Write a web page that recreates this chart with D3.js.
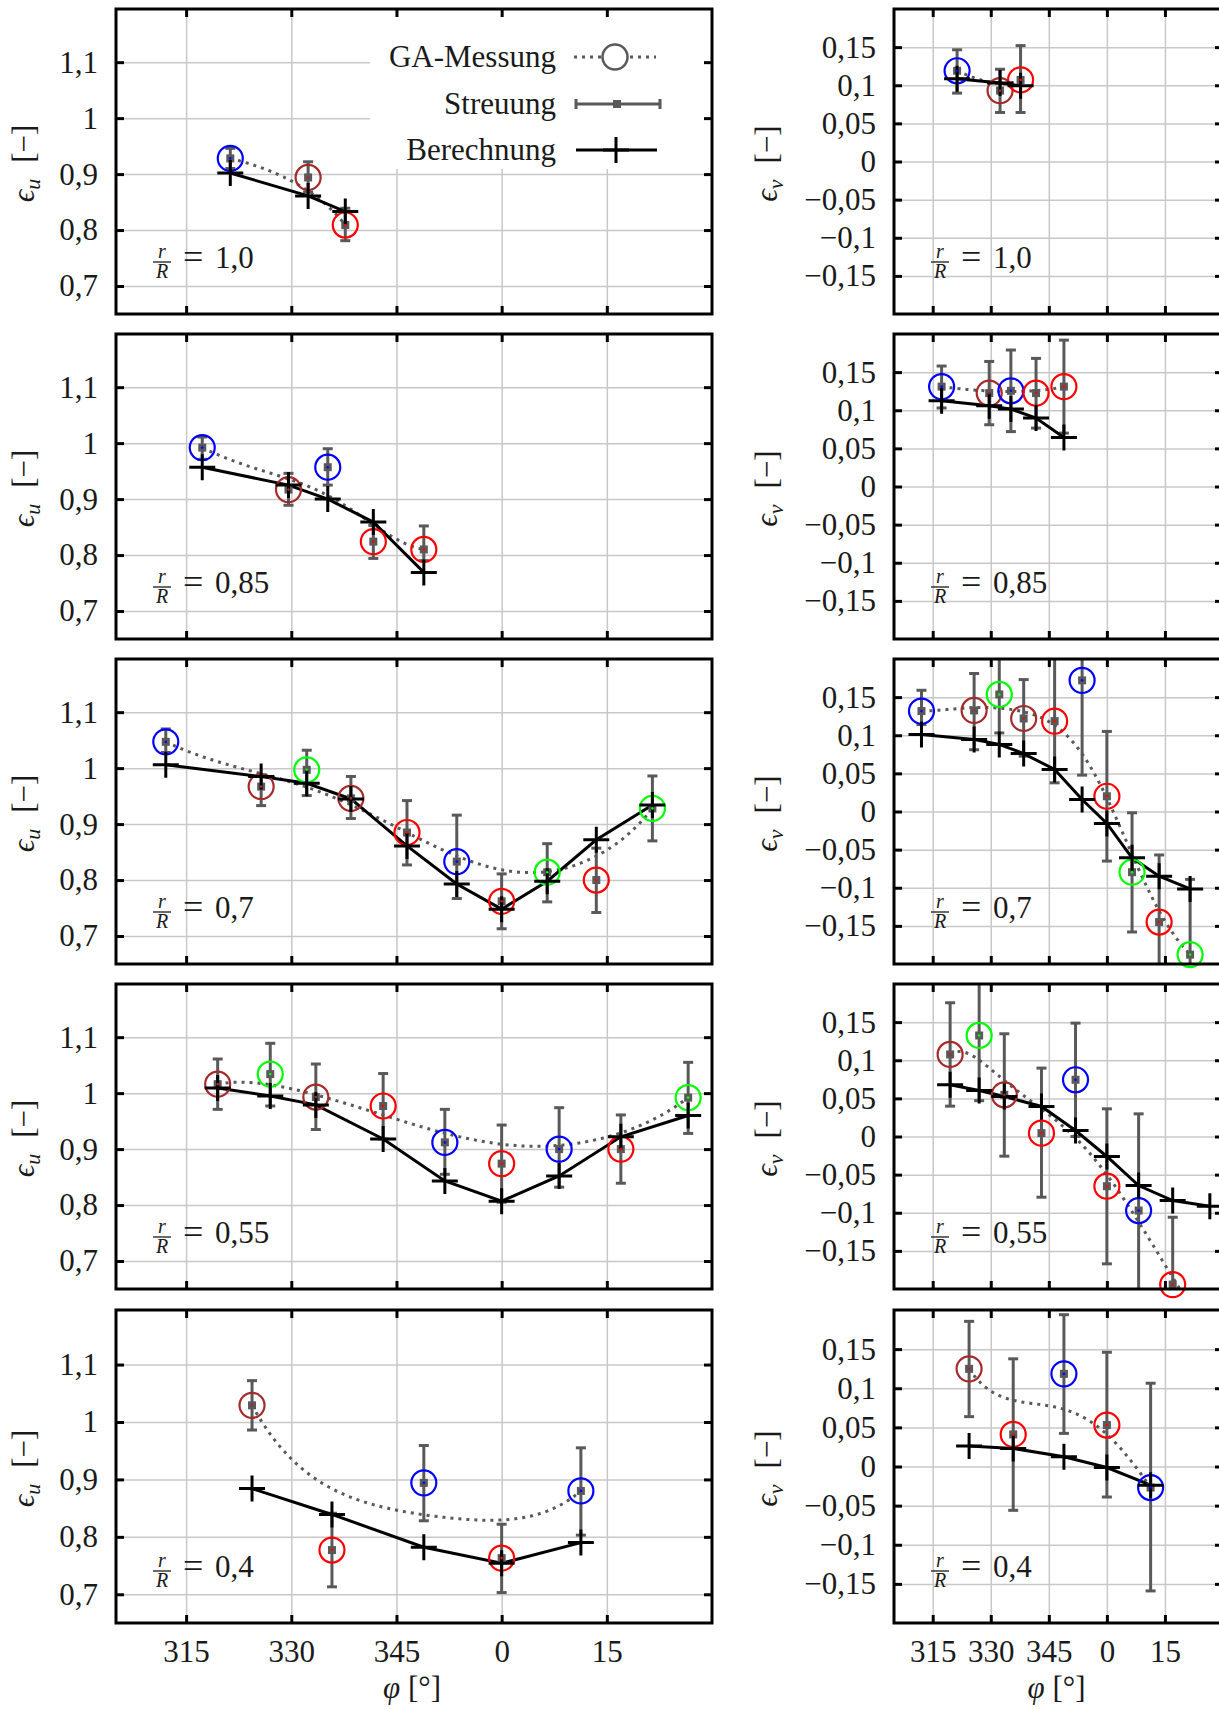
<!DOCTYPE html>
<meta charset="utf-8">
<style>
body { margin: 0; background: #fff; }
svg text { font-family: "Liberation Serif", "DejaVu Serif", serif; fill: #1a1a1a; }
.grid line { stroke: #c8c8c8; stroke-width: 1.5px; }
.grid path, .ticks path { display: none; }
.ticks line { stroke: #000; stroke-width: 3px; }
.ticks text { font-size: 31px; }
</style>
<svg width="1219" height="1709"></svg>
<script src="https://d3js.org/d3.v7.min.js"></script>
<script>

// radius ratios r/R, one row each
var rLabels = ["1,0", "0,85", "0,7", "0,55", "0,4"];

// circumferential angle phi in degrees (negative = 360 - x)
var phi = [
  [-38.7, -27.6, -22.3],
  [-42.7, -30.4, -24.8, -18.3, -11.1],
  [-47.9, -34.3, -27.8, -21.5, -13.5, -6.4, 0, 6.5, 13.5, 21.5],
  [-40.5, -33.0, -26.5, -16.9, -8.1, 0, 8.2, 17.0, 26.6],
  [-35.6, -24.2, -11.1, 0, 11.3]
];

// probe group of each measuring point (B blue, K brown, R red, G green)
var probe = [
  ["B", "K", "R"],
  ["B", "K", "B", "R", "R"],
  ["B", "K", "G", "K", "R", "B", "R", "G", "R", "G"],
  ["K", "G", "K", "R", "B", "R", "B", "R", "G"],
  ["K", "R", "B", "R", "B"]
];

// eps_u : GA measurement, scatter range, calculation
var uMeas = [
  [0.928, 0.894, 0.809],
  [0.992, 0.917, 0.957, 0.824, 0.810],
  [1.047, 0.967, 0.997, 0.946, 0.885, 0.833, 0.762, 0.814, 0.800, 0.928],
  [1.016, 1.034, 0.993, 0.977, 0.912, 0.874, 0.900, 0.900, 0.992],
  [1.029, 0.777, 0.894, 0.763, 0.880]
];
var uLow = [
  [0.910, 0.868, 0.781],
  [0.971, 0.889, 0.925, 0.794, 0.790],
  [1.028, 0.933, 0.951, 0.910, 0.827, 0.767, 0.713, 0.761, 0.742, 0.870],
  [0.971, 0.977, 0.935, 0.918, 0.855, 0.805, 0.832, 0.839, 0.928],
  [0.986, 0.713, 0.828, 0.703, 0.803]
];
var uHigh = [
  [0.946, 0.922, 0.839],
  [1.011, 0.946, 0.990, 0.853, 0.852],
  [1.070, 0.986, 1.032, 0.985, 0.942, 0.916, 0.811, 0.865, 0.857, 0.986],
  [1.061, 1.089, 1.052, 1.035, 0.971, 0.943, 0.974, 0.961, 1.055],
  [1.072, 0.841, 0.959, 0.822, 0.955]
];
var uCalc = [
  [0.902, 0.861, 0.833],
  [0.957, 0.925, 0.900, 0.859, 0.769],
  [1.006, 0.985, 0.973, 0.945, 0.861, 0.793, 0.748, 0.798, 0.872, 0.934],
  [1.009, 0.995, 0.979, 0.918, 0.843, 0.807, 0.852, 0.922, 0.960],
  [0.884, 0.839, 0.782, 0.754, 0.790]
];

// eps_v : GA measurement, scatter range, calculation
var vMeas = [
  [0.119, 0.093, 0.107],
  [0.131, 0.1225, 0.1255, 0.1225, 0.131],
  [0.1317, 0.1325, 0.1535, 0.122, 0.1185, 0.172, 0.020, -0.0796, -0.145, -0.1877],
  [0.1076, 0.1325, 0.0547, 0.0044, 0.0744, -0.0652, -0.0971, -0.1942, -0.26],
  [0.1248, 0.041, 0.1184, 0.053, -0.0269]
];
var vLow = [
  [0.0897, 0.0643, 0.0643],
  [0.103, 0.081, 0.072, 0.0766, 0.070],
  [0.114, 0.081, 0.103, 0.0726, 0.0376, 0.0477, -0.065, -0.158, -0.233, -0.29],
  [0.0398, 0.047, -0.0258, -0.0796, 0.0, -0.167, -0.224, -0.28, -0.34],
  [0.0637, -0.056, 0.0423, -0.039, -0.159]
];
var vHigh = [
  [0.1465, 0.121, 0.152],
  [0.158, 0.164, 0.179, 0.168, 0.192],
  [0.159, 0.181, 0.205, 0.173, 0.21, 0.296, 0.105, -0.0017, -0.057, -0.089],
  [0.1754, 0.218, 0.1347, 0.0897, 0.1487, 0.0363, 0.0297, -0.1059, -0.21],
  [0.1855, 0.1376, 0.194, 0.146, 0.1064]
];
var vCalc = [
  [0.1085, 0.103, 0.0993],
  [0.1124, 0.106, 0.1015, 0.0897, 0.0643],
  [0.101, 0.0945, 0.088, 0.076, 0.0551, 0.0157, -0.0157, -0.0608, -0.0849, -0.1015],
  [0.0678, 0.0604, 0.0525, 0.0394, 0.0079, -0.0262, -0.0643, -0.084, -0.0914],
  [0.0261, 0.0231, 0.0124, -0.0013, -0.0239]
];

var phiTicks = [-45, -30, -15, 0, 15];
var uTicks = [0.7, 0.8, 0.9, 1, 1.1];
var vTicks = [-0.15, -0.1, -0.05, 0, 0.05, 0.1, 0.15];
var legendNames = ["GA-Messung", "Streuung", "Berechnung"];


var svg = d3.select("svg");
var rowBox = [[9, 314], [334, 639], [659, 964], [984, 1289], [1310, 1623]];
var colBox = {u: [116, 712], v: [894, 1223]};
var groupColor = {B: "#0000ff", K: "#a52a2a", R: "#ff0000", G: "#00ff00"};
var GRAY = "#595959", TICK = 8;

var fmt = function(v) { return (v < 0 ? "\u2212" : "") + String(Math.abs(v)).replace(".", ","); };
var fmtPhi = function(v) { return String(v < 0 ? v + 360 : v); };

// gnuplot style "smooth bezier": one Bezier curve over all points
function curveBezier(context) {
  var pts;
  return {
    areaStart: function() {}, areaEnd: function() {},
    lineStart: function() { pts = []; },
    point: function(x, y) { pts.push([+x, +y]); },
    lineEnd: function() {
      var n = pts.length;
      if (!n) return;
      context.moveTo(pts[0][0], pts[0][1]);
      for (var s = 1; s <= 150; s++) {
        var t = s / 150, q = pts.map(function(p) { return p.slice(); });
        for (var k = n - 1; k > 0; k--)
          for (var j = 0; j < k; j++) {
            q[j][0] += t * (q[j + 1][0] - q[j][0]);
            q[j][1] += t * (q[j + 1][1] - q[j][1]);
          }
        context.lineTo(q[0][0], q[0][1]);
      }
    }
  };
}

function plus(g, cx, cy, s) {
  g.append("path").attr("d", "M" + (cx - s) + "," + cy + "H" + (cx + s) + "M" + cx + "," + (cy - s) + "V" + (cy + s))
    .attr("stroke", "#000").attr("stroke-width", 3).attr("fill", "none");
}

function panel(row, key) {
  var xr = colBox[key], yb = rowBox[row];
  var x = d3.scaleLinear().domain([-55, 30]).range(xr);
  var y = d3.scaleLinear().domain(key == "u" ? [0.65, 1.195] : [-0.2, 0.2]).range([yb[1], yb[0]]);
  var yt = key == "u" ? uTicks : vTicks;
  var meas = (key == "u" ? uMeas : vMeas)[row],
      lo = (key == "u" ? uLow : vLow)[row],
      hi = (key == "u" ? uHigh : vHigh)[row],
      calc = (key == "u" ? uCalc : vCalc)[row];
  var pts = phi[row].map(function(p, i) {
    return {p: p, m: meas[i], lo: lo[i], hi: hi[i], c: calc[i], grp: probe[row][i]};
  });
  var dom = y.domain();
  var inside = function(v) { return v >= dom[0] && v <= dom[1]; };

  var g = svg.append("g");
  var id = "clip" + row + key;
  svg.append("clipPath").attr("id", id).append("rect")
    .attr("x", xr[0]).attr("y", yb[0]).attr("width", xr[1] - xr[0]).attr("height", yb[1] - yb[0]);

  g.append("g").attr("class", "grid").attr("transform", "translate(0," + yb[1] + ")")
    .call(d3.axisBottom(x).tickValues(phiTicks).tickSize(-(yb[1] - yb[0])).tickFormat(""));
  g.append("g").attr("class", "grid").attr("transform", "translate(" + xr[0] + ",0)")
    .call(d3.axisLeft(y).tickValues(yt).tickSize(-(xr[1] - xr[0])).tickFormat(""));

  if (row == 0 && key == "u") {
    g.append("rect").attr("x", 370).attr("y", 10).attr("width", 342).attr("height", 159).attr("fill", "#fff");
  }

  var cg = g.append("g").attr("clip-path", "url(#" + id + ")");

  // GA-Messung, smoothed
  cg.append("path").datum(pts)
    .attr("d", d3.line().x(function(d) { return x(d.p); }).y(function(d) { return y(d.m); }).curve(curveBezier))
    .attr("fill", "none").attr("stroke", GRAY).attr("stroke-width", 3).attr("stroke-dasharray", "3,5");

  // Streuung
  var eb = cg.selectAll("g.eb").data(pts).join("g").attr("class", "eb");
  eb.append("line").attr("x1", function(d) { return x(d.p); }).attr("x2", function(d) { return x(d.p); })
    .attr("y1", function(d) { return y(d.lo); }).attr("y2", function(d) { return y(d.hi); })
    .attr("stroke", GRAY).attr("stroke-width", 3);
  ["lo", "hi"].forEach(function(k) {
    eb.append("line").attr("x1", function(d) { return x(d.p) - 5; }).attr("x2", function(d) { return x(d.p) + 5; })
      .attr("y1", function(d) { return y(d[k]); }).attr("y2", function(d) { return y(d[k]); })
      .attr("stroke", GRAY).attr("stroke-width", 3);
  });

  // Berechnung line
  cg.append("path").datum(pts)
    .attr("d", d3.line().x(function(d) { return x(d.p); }).y(function(d) { return y(d.c); }))
    .attr("fill", "none").attr("stroke", "#000").attr("stroke-width", 3);

  var vis = pts.filter(function(d) { return inside(d.m); });
  g.selectAll("rect.mk").data(vis).join("rect").attr("class", "mk")
    .attr("x", function(d) { return x(d.p) - 4; }).attr("y", function(d) { return y(d.m) - 4; })
    .attr("width", 8).attr("height", 8).attr("fill", GRAY);
  g.selectAll("circle.ga").data(vis).join("circle").attr("class", "ga")
    .attr("cx", function(d) { return x(d.p); }).attr("cy", function(d) { return y(d.m); }).attr("r", 12.5)
    .attr("fill", "none").attr("stroke", function(d) { return groupColor[d.grp]; }).attr("stroke-width", 2.2);

  pts.filter(function(d) { return inside(d.c); }).forEach(function(d) { plus(g, x(d.p), y(d.c), 13); });

  g.selectAll("circle.dot").data(vis).join("circle").attr("class", "dot")
    .attr("cx", function(d) { return x(d.p); }).attr("cy", function(d) { return y(d.m); }).attr("r", 1.3)
    .attr("fill", function(d) { return groupColor[d.grp]; });

  // frame and ticks
  g.append("rect").attr("x", xr[0]).attr("y", yb[0]).attr("width", xr[1] - xr[0]).attr("height", yb[1] - yb[0])
    .attr("fill", "none").attr("stroke", "#000").attr("stroke-width", 3);
  g.append("g").attr("class", "ticks").attr("transform", "translate(" + xr[0] + ",0)")
    .call(d3.axisLeft(y).tickValues(yt).tickSize(-TICK).tickPadding(18).tickFormat(fmt));
  g.append("g").attr("class", "ticks").attr("transform", "translate(" + xr[1] + ",0)")
    .call(d3.axisRight(y).tickValues(yt).tickSize(-TICK).tickFormat(""));
  g.append("g").attr("class", "ticks").attr("transform", "translate(0," + yb[0] + ")")
    .call(d3.axisTop(x).tickValues(phiTicks).tickSize(-TICK).tickFormat(""));
  g.append("g").attr("class", "ticks").attr("transform", "translate(0," + yb[1] + ")")
    .call(d3.axisBottom(x).tickValues(phiTicks).tickSize(-TICK).tickPadding(17).tickFormat(row == 4 ? fmtPhi : ""));

  // y label
  var lx = key == "u" ? 34 : 777;
  var t = g.append("text").attr("text-anchor", "middle").style("font-size", "31px")
    .attr("transform", "translate(" + lx + "," + ((yb[0] + yb[1]) / 2 + 2) + ") rotate(-90)");
  t.append("tspan").style("font-style", "italic").text("\u03f5");
  t.append("tspan").style("font-style", "italic").style("font-size", "22px").attr("dy", 6).text(key);
  t.append("tspan").attr("dy", -6).attr("dx", 16).text("[\u2212]");

  // r/R annotation
  var ax = xr[0], ay = yb[1] - 46;
  g.append("text").attr("x", ax + 46).attr("y", ay - 10).attr("text-anchor", "middle")
    .style("font-size", "20px").style("font-style", "italic").text("r");
  g.append("line").attr("x1", ax + 37).attr("x2", ax + 55).attr("y1", ay - 6).attr("y2", ay - 6)
    .attr("stroke", "#1a1a1a").attr("stroke-width", 1.3);
  g.append("text").attr("x", ax + 46).attr("y", ay + 10).attr("text-anchor", "middle")
    .style("font-size", "20px").style("font-style", "italic").text("R");
  g.append("text").attr("x", ax + 67).attr("y", ay + 1).style("font-size", "36px").text("=");
  g.append("text").attr("x", ax + 99).attr("y", ay).style("font-size", "31px").text(rLabels[row]);

  // x title
  if (row == 4) {
    var xt = g.append("text").attr("x", (xr[0] + Math.min(xr[1], 1219)) / 2 + (key == "u" ? -2 : 0)).attr("y", 1698)
      .attr("text-anchor", "middle").style("font-size", "31px");
    xt.append("tspan").style("font-style", "italic").text("\u03c6");
    xt.append("tspan").text(" [\u00b0]");
  }
}

for (var r = 0; r < 5; r++) { panel(r, "u"); panel(r, "v"); }

// legend
var lg = svg.append("g");
var ly = [57, 104, 150];
legendNames.forEach(function(name, i) {
  lg.append("text").attr("x", 556).attr("y", ly[i] + 10).attr("text-anchor", "end")
    .style("font-size", "31px").text(name);
});
lg.append("line").attr("x1", 574).attr("x2", 656).attr("y1", ly[0]).attr("y2", ly[0])
  .attr("stroke", GRAY).attr("stroke-width", 3).attr("stroke-dasharray", "3,5");
lg.append("circle").attr("cx", 615).attr("cy", ly[0]).attr("r", 12.5)
  .attr("fill", "#fff").attr("stroke", GRAY).attr("stroke-width", 2.5);
lg.append("path").attr("d", "M576," + ly[1] + "H660M576," + (ly[1] - 5) + "V" + (ly[1] + 5) + "M660," + (ly[1] - 5) + "V" + (ly[1] + 5))
  .attr("stroke", GRAY).attr("stroke-width", 3).attr("fill", "none");
lg.append("rect").attr("x", 613).attr("y", ly[1] - 4).attr("width", 8).attr("height", 8).attr("fill", GRAY);
lg.append("line").attr("x1", 576).attr("x2", 657).attr("y1", ly[2]).attr("y2", ly[2])
  .attr("stroke", "#000").attr("stroke-width", 3);
plus(lg, 616, ly[2], 13);

</script>
